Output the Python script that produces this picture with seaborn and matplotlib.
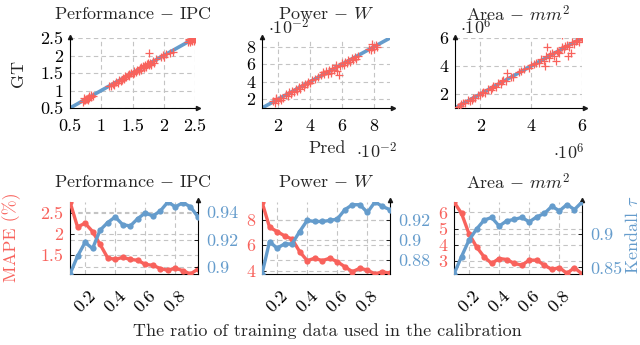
import seaborn as sns
import matplotlib.pyplot as plt

W, H = 640, 345
RED = '#f8625c'
BLUE = '#659ccc'
GRID = '#c4c4c4'
FS = 13

# ---- top row: GT vs Pred ----
ipc_pred = [0.70, 0.72, 0.74, 0.75, 0.77, 0.78, 0.80, 0.81, 0.83, 0.84, 0.86, 0.79, 0.73,
            1.12, 1.15, 1.18, 1.20, 1.23, 1.26, 1.28, 1.31, 1.34, 1.36, 1.38, 1.40, 1.42,
            1.45, 1.47, 1.50, 1.52, 1.55, 1.57, 1.60, 1.62, 1.64, 1.66, 1.68, 1.70, 1.72,
            1.74, 1.76, 1.78, 1.80, 1.76, 1.83, 1.85, 1.88, 1.95, 1.98, 2.00, 2.03, 2.10,
            2.14, 2.38, 2.40, 2.42, 2.44, 2.45, 2.47, 2.48, 2.50, 2.46, 2.43, 2.49, 2.41,
            1.33, 1.44, 1.53, 1.63, 1.69, 1.73, 1.79]
ipc_gt = [0.68, 0.74, 0.72, 0.77, 0.75, 0.80, 0.78, 0.83, 0.81, 0.86, 0.84, 0.73, 0.78,
          1.14, 1.12, 1.20, 1.17, 1.25, 1.22, 1.30, 1.28, 1.36, 1.33, 1.41, 1.38, 1.45,
          1.42, 1.50, 1.47, 1.55, 1.52, 1.60, 1.57, 1.65, 1.60, 1.70, 1.64, 1.72, 1.68,
          1.78, 1.72, 1.80, 1.76, 2.06, 1.85, 1.80, 1.90, 1.97, 2.02, 1.96, 2.05, 2.08,
          2.10, 2.40, 2.44, 2.38, 2.47, 2.42, 2.50, 2.45, 2.48, 2.52, 2.45, 2.41, 2.48,
          1.31, 1.46, 1.51, 1.66, 1.66, 1.76, 1.74]

# power, in units of 1e-2 W
pwr_pred = [1.7, 1.8, 1.9, 2.0, 2.1, 2.2, 1.85, 2.3, 2.5, 2.6, 2.7, 2.8, 2.9, 3.0, 3.1,
            3.2, 3.3, 3.4, 3.5, 3.6, 3.7, 3.8, 3.9, 4.0, 4.1, 4.3, 4.5, 4.7, 4.8, 4.9,
            5.0, 5.1, 5.2, 5.3, 5.4, 5.5, 5.6, 5.7, 5.8, 5.6, 5.9, 6.0, 6.1, 6.2, 6.3,
            6.4, 6.5, 6.6, 6.7, 6.8, 6.9, 7.0, 7.7, 7.8, 7.9, 8.0, 8.1, 8.2, 7.9]
pwr_gt = [1.8, 1.6, 2.0, 1.8, 2.2, 1.9, 2.1, 2.1, 2.6, 2.4, 2.8, 2.6, 3.0, 2.8, 3.2,
          3.0, 3.4, 3.2, 3.6, 3.4, 3.8, 3.7, 4.0, 3.9, 4.2, 4.3, 4.6, 4.8, 5.1, 4.9,
          5.2, 4.9, 5.3, 5.0, 5.6, 5.4, 5.7, 5.2, 4.8, 5.9, 5.8, 6.1, 5.9, 6.3, 6.1,
          6.5, 6.3, 6.7, 6.5, 6.8, 6.6, 6.9, 7.8, 7.6, 8.0, 7.8, 8.2, 8.0, 8.3]

# area, in units of 1e6 mm^2
area_pred = [1.1, 1.2, 1.3, 1.4, 1.5, 1.6, 1.7, 1.8, 1.9, 2.0, 2.1, 2.2, 2.3, 2.4, 2.5,
             2.6, 2.7, 2.8, 2.9, 3.05, 3.0, 3.2, 3.3, 3.5, 3.7, 3.9, 4.1, 4.3, 4.4, 4.5,
             4.53, 4.62, 4.6, 4.7, 4.8, 4.9, 4.96, 5.0, 5.1, 5.2, 5.22, 5.3, 5.4, 5.43,
             5.5, 5.57, 5.6, 5.7, 5.8, 5.9, 6.0, 5.95, 1.25, 1.65, 2.05, 2.45, 2.85,
             3.6, 4.0, 4.2, 4.75, 5.05, 5.35, 5.75]
area_gt = [1.1, 1.15, 1.35, 1.35, 1.55, 1.5, 1.75, 1.7, 1.95, 1.95, 2.15, 2.1, 2.35, 2.3,
           2.55, 2.5, 2.8, 2.7, 3.0, 3.52, 2.95, 3.25, 3.2, 3.55, 3.8, 3.85, 4.15, 4.2,
           4.5, 4.35, 4.0, 5.39, 4.7, 4.55, 4.9, 4.75, 4.37, 5.1, 4.95, 5.35, 6.24, 5.2,
           5.5, 4.73, 5.35, 4.9, 5.7, 5.55, 5.85, 5.75, 6.0, 6.05, 1.3, 1.6, 2.1, 2.45,
           2.9, 3.65, 4.05, 4.25, 4.85, 5.0, 5.45, 5.8]

# ---- bottom row: calibration ratio ----
ratio = [0.10, 0.15, 0.20, 0.25, 0.30, 0.35, 0.40, 0.45, 0.50,
         0.55, 0.60, 0.65, 0.70, 0.75, 0.80, 0.85, 0.90, 0.95]
ipc_mape = [2.77, 2.17, 2.26, 2.06, 1.75, 1.43, 1.39, 1.44, 1.39,
            1.37, 1.27, 1.25, 1.17, 1.13, 1.18, 1.12, 1.04, 1.16]
ipc_tau = [0.895, 0.908, 0.918, 0.9136, 0.927, 0.9325, 0.9366, 0.931, 0.930,
           0.9354, 0.9395, 0.9373, 0.941, 0.9475, 0.944, 0.947, 0.944, 0.9366]
pwr_mape = [9.40, 7.42, 7.08, 6.74, 6.48, 5.50, 4.79, 4.98, 4.79,
            4.98, 4.71, 4.31, 3.92, 4.19, 4.05, 3.74, 3.92, 3.79]
pwr_tau = [0.866, 0.8983, 0.8917, 0.896, 0.896, 0.9083, 0.9193, 0.9183, 0.9183,
           0.9193, 0.9207, 0.930, 0.935, 0.935, 0.9273, 0.9377, 0.9333, 0.930]
area_mape = [6.64, 5.94, 4.68, 3.88, 3.27, 2.87, 3.17, 3.11, 2.87,
             2.76, 3.07, 3.07, 2.76, 2.50, 2.61, 2.26, 2.61, 2.22]
area_tau = [0.8402, 0.8663, 0.8911, 0.9074, 0.9208, 0.9248, 0.9119, 0.9197, 0.9218,
            0.9248, 0.9182, 0.9257, 0.9307, 0.9415, 0.9346, 0.9441, 0.9366, 0.9479]

sns.set_theme(style='white')
plt.rcParams['font.family'] = 'serif'
plt.rcParams['font.serif'] = ['cmr10']
plt.rcParams['mathtext.fontset'] = 'cm'
plt.rcParams['axes.formatter.use_mathtext'] = True
plt.rcParams['axes.unicode_minus'] = False

fig = plt.figure(figsize=(W / 100, H / 100), dpi=100)


def px_axes(x0, x1, y0, y1):
    return fig.add_axes([x0 / W, 1 - y1 / H, (x1 - x0) / W, (y1 - y0) / H])


def ftext(x, y, s, **kw):
    fig.text(x / W, 1 - y / H, s, ha='center', va='center', fontsize=FS, **kw)


def style_axes(ax):
    for s in ['top', 'right']:
        ax.spines[s].set_visible(False)
    for s in ['left', 'bottom']:
        ax.spines[s].set_color('black')
        ax.spines[s].set_linewidth(0.8)
    ax.tick_params(direction='in', length=3, width=0.6, labelsize=FS, pad=5,
                   colors='black')


def dashed_grid(ax, axis='both'):
    ax.grid(True, axis=axis, color=GRID, linestyle=(0, (4, 3)), linewidth=0.8)
    ax.set_axisbelow(True)


def scatter_panel(ax, pred, gt, lim, ticks, labels):
    sns.lineplot(x=lim, y=lim, ax=ax, color=BLUE, linewidth=2.6, zorder=2)
    sns.scatterplot(x=pred, y=gt, ax=ax, marker='+', color=RED, s=30,
                    linewidth=0.9, zorder=3)
    ax.set_xlim(lim)
    ax.set_ylim(lim)
    ax.set_xticks(ticks)
    ax.set_xticklabels(labels)
    ax.set_yticks(ticks)
    ax.set_yticklabels(labels)
    style_axes(ax)
    ax.tick_params(axis='x', pad=8)
    dashed_grid(ax)
    ax.plot(1.02, 0, '>k', transform=ax.transAxes, clip_on=False, ms=3)
    ax.plot(0, 1.02, '^k', transform=ax.transAxes, clip_on=False, ms=3)


def ratio_panel(ax, mape, tau, lticks, llabels, rticks, rlabels):
    sns.lineplot(x=ratio, y=mape, ax=ax, color=RED, linewidth=2.4, marker='o',
                 markersize=4.5, markeredgewidth=0, zorder=3)
    ax.set_xlim(0.1, 0.95)
    ax.set_ylim(min(mape), max(mape))
    ax.set_xticks([0.2, 0.4, 0.6, 0.8])
    ax.set_xticklabels(['0.2', '0.4', '0.6', '0.8'], rotation=45, ha='center',
                       va='top')
    ax.set_yticks(lticks)
    ax.set_yticklabels(llabels)
    style_axes(ax)
    ax.tick_params(axis='y', labelcolor=RED)
    ax.tick_params(axis='x', pad=10)
    dashed_grid(ax)
    # right-axis grid lines drawn on the left axes so they stay under the lines
    lo_l, hi_l = min(mape), max(mape)
    lo_r, hi_r = min(tau), max(tau)
    for t in rticks:
        ax.axhline(lo_l + (t - lo_r) / (hi_r - lo_r) * (hi_l - lo_l), color=GRID,
                   linestyle=(0, (4, 3)), linewidth=0.8, zorder=0.5)
    ax.set_xlabel('')
    ax.set_ylabel('')

    axr = ax.twinx()
    sns.lineplot(x=ratio, y=tau, ax=axr, color=BLUE, linewidth=2.4, marker='o',
                 markersize=4.5, markeredgewidth=0, zorder=3)
    axr.set_ylim(lo_r, hi_r)
    axr.set_yticks(rticks)
    axr.set_yticklabels(rlabels)
    for s in ['top', 'left', 'bottom']:
        axr.spines[s].set_visible(False)
    axr.spines['right'].set_color('black')
    axr.spines['right'].set_linewidth(0.8)
    axr.tick_params(direction='in', length=3, width=0.6, labelsize=FS, pad=6,
                    colors='black', labelcolor=BLUE)
    axr.plot(1, 1.03, '^k', transform=axr.transAxes, clip_on=False, ms=3)
    axr.set_ylabel('')
    return axr


# top row
a1 = px_axes(70, 195, 38, 108)
scatter_panel(a1, ipc_pred, ipc_gt, [0.5, 2.5], [0.5, 1, 1.5, 2, 2.5],
              ['0.5', '1', '1.5', '2', '2.5'])
a2 = px_axes(262, 390, 38, 108)
scatter_panel(a2, pwr_pred, pwr_gt, [1, 9], [2, 4, 6, 8], ['2', '4', '6', '8'])
a3 = px_axes(455, 582, 38, 108)
scatter_panel(a3, area_pred, area_gt, [1, 6], [2, 4, 6], ['2', '4', '6'])

# bottom row
b1 = px_axes(70, 198, 202, 274)
ratio_panel(b1, ipc_mape, ipc_tau, [1.5, 2, 2.5], ['1.5', '2', '2.5'],
            [0.9, 0.92, 0.94], ['0.9', '0.92', '0.94'])
b2 = px_axes(262, 390, 202, 274)
ratio_panel(b2, pwr_mape, pwr_tau, [4, 6, 8], ['4', '6', '8'],
            [0.88, 0.9, 0.92], ['0.88', '0.9', '0.92'])
b3 = px_axes(454, 582, 202, 274)
ratio_panel(b3, area_mape, area_tau, [3, 4, 5, 6], ['3', '4', '5', '6'],
            [0.85, 0.9], ['0.85', '0.9'])

# titles and labels
titles = [r'Performance $-$ IPC', r'Power $-$ $W$', r'Area $-$ $mm^2$']
for cx, t in zip([133, 326, 518], titles):
    ftext(cx, 14, t)
    ftext(cx, 182, t)
ftext(18, 73, 'GT', rotation=90)
ftext(327, 148, 'Pred')
ftext(377, 151, r'$\cdot 10^{-2}$')
ftext(289, 27, r'$\cdot 10^{-2}$')
ftext(476, 27, r'$\cdot 10^{6}$')
ftext(569, 152, r'$\cdot 10^{6}$')
ftext(12, 237, 'MAPE (%)', rotation=90, color=RED)
ftext(633, 235, r'Kendall $\tau$', rotation=90, color=BLUE)
ftext(327, 331, 'The ratio of training data used in the calibration')

fig.savefig('out.png', dpi=100)
